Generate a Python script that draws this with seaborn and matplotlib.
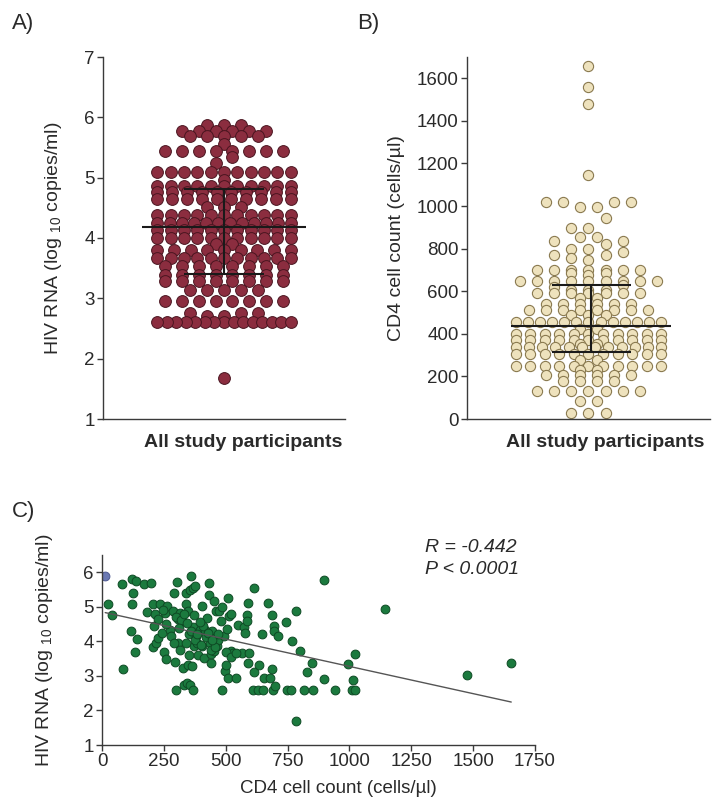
import numpy as np
import pandas as pd
import matplotlib
matplotlib.use("Agg")
import matplotlib.pyplot as plt
import seaborn as sns

# ---------------- data ----------------
group_label = "All study participants"

# Panel A: HIV RNA (log10 copies/ml), one value per dot
hiv_rna_a = [
    5.87, 5.87, 5.87,
    5.77, 5.77, 5.77, 5.77, 5.77, 5.77,
    5.69, 5.69, 5.69, 5.69, 5.69,
    5.55,
    5.45, 5.45, 5.45, 5.45, 5.45, 5.45, 5.45, 5.45,
    5.35,
    5.25,
    5.09, 5.09, 5.09, 5.09, 5.09, 5.09, 5.09, 5.09, 5.09, 5.09, 5.09,
    4.96,
    4.87, 4.87, 4.87, 4.87, 4.87, 4.87, 4.87, 4.87, 4.87, 4.87, 4.87,
    4.77, 4.77, 4.77, 4.77, 4.77, 4.77, 4.77, 4.77, 4.77, 4.77,
    4.64, 4.64, 4.64, 4.64, 4.64, 4.64, 4.64, 4.64, 4.64, 4.64,
    4.52, 4.52, 4.52,
    4.38, 4.38, 4.38, 4.38, 4.38, 4.38, 4.38, 4.38, 4.38, 4.38, 4.38,
    4.25, 4.25, 4.25, 4.25, 4.25, 4.25, 4.25, 4.25, 4.25, 4.25, 4.25, 4.25,
    4.14, 4.14, 4.14, 4.14, 4.14, 4.14, 4.14, 4.14, 4.14, 4.14, 4.14,
    4.00, 4.00, 4.00, 4.00, 4.00, 4.00, 4.00, 4.00, 4.00, 4.00, 4.00,
    3.90, 3.90,
    3.80, 3.80, 3.80, 3.80, 3.80, 3.80, 3.80, 3.80, 3.80,
    3.67, 3.67, 3.67, 3.67, 3.67, 3.67, 3.67, 3.67, 3.67, 3.67, 3.67,
    3.53, 3.53, 3.53, 3.53, 3.53, 3.53, 3.53, 3.53,
    3.39, 3.39, 3.39, 3.39, 3.39, 3.39, 3.39, 3.39,
    3.29, 3.29, 3.29, 3.29, 3.29, 3.29, 3.29, 3.29,
    3.13, 3.13, 3.13, 3.13, 3.13,
    2.96, 2.96, 2.96, 2.96, 2.96, 2.96, 2.96, 2.96,
    2.75, 2.75, 2.75,
    2.71, 2.71,
    2.60, 2.60, 2.60, 2.60, 2.60, 2.60, 2.60, 2.60, 2.60, 2.60, 2.60, 2.60, 2.60, 2.60, 2.60,
    1.68,
]
a_median, a_q1, a_q3 = 4.19, 3.40, 4.82

# Panel B: CD4 cell count (cells/ul), one value per dot
cd4_b = [
    1658, 1558, 1480, 1146,
    1018, 1018, 1018, 1018, 994, 994, 943,
    899, 899, 853, 853, 834, 834, 821,
    796, 796, 783, 768, 768, 755, 747,
    700, 700, 700, 700, 700, 700, 700, 684, 684, 677,
    648, 648, 648, 648, 648, 648, 648, 648, 648, 630, 622,
    607, 607, 607,
    593, 593, 593, 593, 593, 593, 593,
    570, 570,
    540, 540, 540, 540, 540, 540,
    510, 510, 510, 510, 510, 510, 510, 510,
    488, 488, 488,
    456, 456, 456, 456, 456, 456, 456, 456, 456, 456, 456, 456, 456,
    425, 425,
    401, 401, 401, 401, 401, 401, 401, 401, 401, 401, 401,
    370, 370, 370, 370, 370, 370, 370, 370, 370, 370, 370,
    352, 352,
    338, 338, 338, 338, 338, 338, 338, 338, 338, 338, 338, 338,
    305, 305, 305, 305, 305, 305, 305, 305, 305, 305, 305,
    275, 275,
    250, 250, 250, 250, 250, 250, 250, 250, 250, 250, 250,
    228, 228,
    205, 205, 205, 205, 205, 205,
    180, 180, 180, 180,
    130, 130, 130, 130, 130, 130, 130,
    85, 85,
    30, 30, 30,
]
b_median, b_q1, b_q3 = 438, 315, 630

# Panel C: paired CD4 count and HIV RNA
cd4_c = [24, 39, 79, 85, 118, 123, 125, 123, 136, 143,
         134, 171, 197, 180, 208, 215, 212, 208, 219, 228,
         233, 243, 252, 257, 255, 261, 276, 285, 296, 298,
         292, 303, 307, 309, 314, 316, 322, 329, 333, 338,
         340, 344, 346, 349, 351, 355, 355, 358, 366, 368,
         369, 371, 373, 377, 381, 382, 390, 395, 404, 406,
         414, 417, 423, 426, 434, 434, 435, 439, 441, 443,
         452, 454, 458, 461, 465, 469, 472, 483, 487, 493,
         498, 500, 509, 509, 513, 520, 522, 528, 542, 551,
         566, 574, 579, 586, 590, 590, 596, 588, 614, 616,
         610, 629, 636, 645, 649, 653, 671, 678, 689, 691,
         689, 697, 697, 700, 711, 744, 748, 763, 768, 785,
         786, 800, 818, 829, 847, 851, 897, 899, 943, 993,
         1013, 1011, 1022, 1024, 1145, 1476, 1654,
         300, 320, 330, 345, 360, 375, 385, 400, 410, 420,
         430, 440, 455, 470, 480, 500, 520, 260, 245, 225,
         280, 350, 365, 395, 445, 505, 290, 310, 340, 540]
rna_c = [5.09, 4.76, 5.66, 3.20, 4.31, 5.80, 5.41, 5.09, 5.75, 4.08,
         3.68, 5.66, 5.70, 4.85, 5.07, 4.80, 4.45, 3.83, 3.95, 4.10,
         5.09, 4.24, 3.68, 3.50, 4.83, 5.03, 4.32, 4.88, 3.39, 2.60,
         5.40, 5.72, 4.65, 3.95, 3.76, 4.82, 4.58, 3.23, 2.75, 5.41,
         5.09, 2.80, 3.33, 4.87, 4.22, 2.75, 5.49, 5.88, 2.60, 5.54,
         4.43, 3.86, 4.75, 5.59, 4.15, 3.95, 3.60, 4.34, 5.01, 3.86,
         3.52, 4.34, 4.67, 4.15, 5.70, 5.34, 3.95, 3.38, 3.62, 4.29,
         5.16, 3.71, 4.10, 4.87, 3.86, 4.05, 4.87, 2.60, 4.99, 4.15,
         3.13, 3.33, 5.26, 2.94, 4.72, 4.80, 3.73, 3.66, 2.94, 4.47,
         3.66, 4.43, 4.24, 4.77, 5.11, 3.38, 3.66, 4.58, 3.11, 5.55,
         2.60, 2.60, 3.33, 4.21, 2.60, 2.94, 5.11, 2.94, 3.21, 2.60,
         4.77, 4.45, 4.29, 2.70, 4.15, 4.55, 2.60, 2.60, 4.00, 4.87,
         1.69, 3.73, 2.60, 3.12, 3.36, 2.60, 5.79, 2.90, 2.60, 3.35,
         2.87, 2.60, 2.60, 3.62, 4.95, 3.02, 3.38,
         4.70, 4.62, 4.78, 4.52, 4.30, 4.05, 4.20, 3.90, 4.45, 4.12,
         4.25, 3.75, 3.85, 4.20, 4.60, 3.70, 3.55, 4.50, 4.90, 4.65,
         4.15, 3.60, 3.30, 4.55, 4.05, 4.35, 3.95, 4.40, 3.95, 3.65]
cd4_c_flag = [13]
rna_c_flag = [5.88]

r_text = "R = -0.442"
p_text = "P < 0.0001"

a_yticks = [1, 2, 3, 4, 5, 6, 7]
b_yticks = [0, 200, 400, 600, 800, 1000, 1200, 1400, 1600]
c_xticks = [0, 250, 500, 750, 1000, 1250, 1500, 1750]
c_yticks = [1, 2, 3, 4, 5, 6]

# ---------------- style ----------------
sns.set_theme(style="ticks")
plt.rcParams["font.family"] = ["Liberation Sans", "DejaVu Sans"]
plt.rcParams["mathtext.fontset"] = "custom"
plt.rcParams["mathtext.rm"] = "Liberation Sans"
plt.rcParams["mathtext.it"] = "Liberation Sans:italic"

spine_c = "#3a3a3a"
text_c = "#2a2a2a"
rna_label = r"HIV RNA (log $_{\mathregular{10}}$ copies/ml)"
TICK_FS = 13.5
LAB_FS = 14

fig = plt.figure(figsize=(7.13, 7.98), dpi=100)
W, H = 713, 798
axA = fig.add_axes([103 / W, 1 - 419 / H, 242 / W, 362 / H])
axB = fig.add_axes([467 / W, 1 - 419 / H, 243 / W, 362 / H])
axC = fig.add_axes([102 / W, 1 - 745 / H, 433 / W, 190 / H])


def style_axis(ax):
    sns.despine(ax=ax)
    for s in ("left", "bottom"):
        ax.spines[s].set_color(spine_c)
        ax.spines[s].set_linewidth(1.0)
    ax.tick_params(axis="both", direction="out", length=4, width=1.0,
                   color=spine_c, labelcolor=text_c, labelsize=TICK_FS, pad=2)


def dot_offsets(values, tol, max_n, block, cap):
    """Column-scatter layout. Neighbouring sparse values (within `tol`, at most
    `max_n` dots) share one row; each row's dots are spread side by side,
    centre-out, filling at most `block` wide with a gap of at most `cap`."""
    vals = np.asarray(values, dtype=float)
    uniq, counts = np.unique(vals, return_counts=True)
    gid, g, first, n = {}, -1, None, 0
    for u, c in zip(uniq, counts):
        if first is not None and u - first <= tol and n + c <= max_n:
            n += c
        else:
            g += 1
            first, n = u, c
        gid[u] = g
    groups = np.array([gid[v] for v in vals])
    x = np.zeros(len(vals))
    for k in np.unique(groups):
        idx = np.where(groups == k)[0]
        idx = idx[np.argsort(vals[idx], kind="stable")]
        m = len(idx)
        if m > 1:
            step = min(cap, block / (m - 1))
            slots = (np.arange(m) - (m - 1) / 2.0) * step
            slots = slots[np.argsort(np.abs(slots) + 1e-9 * slots, kind="stable")]
            x[idx] = slots
    return x


# ---------- Panel A ----------
dfA = pd.DataFrame({"rna": hiv_rna_a})
dfA["pos"] = dot_offsets(dfA["rna"], 0.12, 6, 0.55, 0.07)
sns.scatterplot(data=dfA, x="pos", y="rna", ax=axA, s=72, color="#8B2D3F",
                edgecolor="#4A1520", linewidth=0.7, zorder=2)
axA.set_xlim(-0.5, 0.5)
axA.set_ylim(1, 7)
axA.set_yticks(a_yticks)
axA.set_xticks([])
style_axis(axA)
axA.hlines(a_median, -0.34, 0.34, color="#1a1a1a", lw=1.5, zorder=5)
axA.hlines([a_q1, a_q3], -0.165, 0.165, color="#1a1a1a", lw=1.5, zorder=5)
axA.vlines(0, a_q1, a_q3, color="#1a1a1a", lw=1.5, zorder=5)
axA.set_ylabel(rna_label, fontsize=LAB_FS, color=text_c)
axA.yaxis.set_label_coords(-0.16, 0.5)
axA.set_xlabel(group_label, fontsize=LAB_FS, fontweight="bold", color=text_c)
axA.xaxis.set_label_coords(0.578, -0.042)
fig.text(12 / W, 1 - 24 / H, "A)", fontsize=16, color=text_c, va="center")

# ---------- Panel B ----------
dfB = pd.DataFrame({"cd4": cd4_b})
dfB["pos"] = dot_offsets(dfB["cd4"], 45, 6, 0.6, 0.07)
sns.scatterplot(data=dfB, x="pos", y="cd4", ax=axB, s=54, color="#EEE2BD",
                edgecolor="#8A7A50", linewidth=0.8, zorder=2)
axB.set_xlim(-0.5, 0.5)
axB.set_ylim(0, 1700)
axB.set_yticks(b_yticks)
axB.set_xticks([])
style_axis(axB)
axB.hlines(b_median, -0.32, 0.34, color="#1a1a1a", lw=1.5, zorder=5)
axB.hlines([b_q1, b_q3], -0.15, 0.175, color="#1a1a1a", lw=1.5, zorder=5)
axB.vlines(0.01, b_q1, b_q3, color="#1a1a1a", lw=1.5, zorder=5)
axB.set_ylabel("CD4 cell count (cells/µl)", fontsize=LAB_FS, color=text_c)
axB.yaxis.set_label_coords(-0.255, 0.5)
axB.set_xlabel(group_label, fontsize=LAB_FS, fontweight="bold", color=text_c)
axB.xaxis.set_label_coords(0.568, -0.042)
fig.text(357 / W, 1 - 24 / H, "B)", fontsize=16, color=text_c, va="center")

# ---------- Panel C ----------
all_x = cd4_c_flag + cd4_c
all_y = rna_c_flag + rna_c
sns.scatterplot(x=cd4_c, y=rna_c, ax=axC, s=40, color="#1B7A3E",
                edgecolor="#0E4A24", linewidth=0.7, zorder=2)
sns.scatterplot(x=cd4_c_flag, y=rna_c_flag, ax=axC, s=40, color="#6B79B3",
                edgecolor="#4B5790", linewidth=0.7, zorder=2)
sns.regplot(x=all_x, y=all_y, ax=axC, scatter=False, ci=None, truncate=True,
            line_kws=dict(color="#555555", lw=1.0, zorder=3))
axC.set_xlim(0, 1750)
axC.set_ylim(1, 6.5)
axC.set_xticks(c_xticks)
axC.set_yticks(c_yticks)
style_axis(axC)
axC.set_ylabel(rna_label, fontsize=LAB_FS, color=text_c)
axC.yaxis.set_label_coords(-0.108, 0.5)
axC.set_xlabel("CD4 cell count (cells/µl)", fontsize=13.5, color=text_c)
axC.xaxis.set_label_coords(0.545, -0.182)
axC.text(0.746, 1.04, r_text, transform=axC.transAxes, fontsize=14,
         style="italic", color=text_c, va="center", ha="left")
axC.text(0.746, 0.925, p_text, transform=axC.transAxes, fontsize=14,
         style="italic", color=text_c, va="center", ha="left")
fig.text(12 / W, 1 - 511 / H, "C)", fontsize=16, color=text_c, va="center")

fig.savefig("out.png", dpi=100)
